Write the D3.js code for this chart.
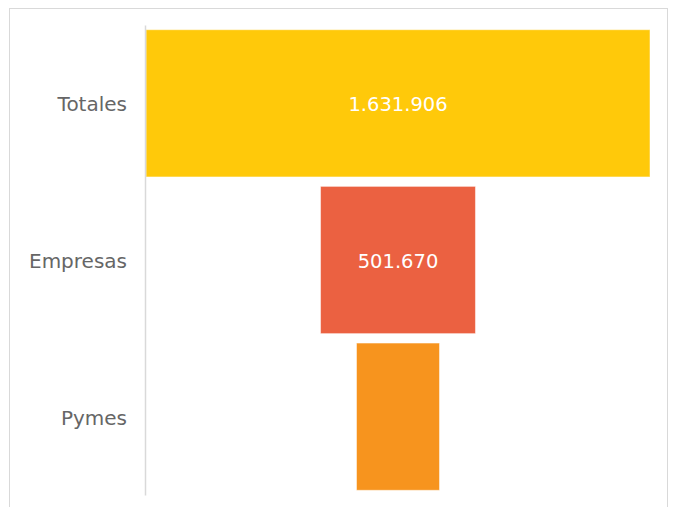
<!DOCTYPE html>
<html><head><meta charset="utf-8">
<script src="https://cdn.jsdelivr.net/npm/d3@7"></script>
<style>body{margin:0;background:#fff;}svg{display:block;}</style>
</head><body>
<script>
const categories = ["Totales", "Empresas", "Pymes"];
const values = [1631906, 501670, 268800];
const labels = ["1.631.906", "501.670", ""];
const colors = ["#FFC90A", "#EB6141", "#F7941E"];

(function () {
const W = 673, H = 507;
const svg = d3.select("body").append("svg").attr("width", W).attr("height", H);
svg.append("rect").attr("x", 9.5).attr("y", 8.5).attr("width", 658).attr("height", 510)
  .attr("fill", "#fff").attr("stroke", "#d9d9d9").attr("stroke-width", 1);

const mLeft = 146, mRight = 650;
const mTop = 25, mBottom = 495;
const center = (mLeft + mRight) / 2;
const x = d3.scaleLinear().domain([0, d3.max(values)]).range([0, mRight - mLeft]);
const y = d3.scaleBand().domain(categories).range([mTop, mBottom]).paddingInner(0.06).paddingOuter(0.03);

svg.selectAll("rect.bar").data(categories).enter().append("rect")
  .attr("class", "bar")
  .attr("x", (d, i) => center - x(values[i]) / 2)
  .attr("y", d => y(d))
  .attr("width", (d, i) => x(values[i]))
  .attr("height", y.bandwidth())
  .attr("fill", (d, i) => colors[i])
  .attr("stroke", "#ffffff").attr("stroke-opacity", 0.5).attr("stroke-width", 1);

const axis = d3.axisLeft(y).tickSize(0).tickPadding(18);
const g = svg.append("g").attr("transform", `translate(${mLeft - 1},0)`).call(axis);
g.select(".domain").attr("stroke", "#d9d9d9").attr("stroke-width", 1.5);
g.selectAll("text").attr("font-family", "DejaVu Sans, sans-serif")
  .attr("font-size", 20).attr("fill", "#666666").attr("dy", "0.4em");

svg.selectAll("text.val").data(categories).enter().append("text")
  .attr("class", "val")
  .attr("x", center)
  .attr("y", d => y(d) + y.bandwidth() / 2)
  .attr("dy", "0.4em")
  .attr("text-anchor", "middle")
  .attr("font-family", "DejaVu Sans, sans-serif")
  .attr("font-size", 19.5).attr("fill", "#ffffff")
  .text((d, i) => labels[i]);
})();
</script>
</body></html>
